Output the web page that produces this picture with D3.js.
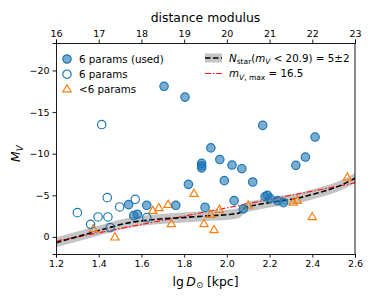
<!DOCTYPE html>
<html>
<head>
<meta charset="utf-8">
<script src="https://cdn.jsdelivr.net/npm/d3@7"></script>
<style>
  body { margin: 0; background: #fff; }
  text { font-family: "DejaVu Sans", sans-serif; fill: #000; }
</style>
</head>
<body>
<div id="chart"></div>
<script>
// data
const usedLgD = [1.706, 1.804, 2.168, 2.413, 2.368, 2.323, 1.925, 1.967, 1.882, 1.882, 1.882, 2.024, 2.07, 1.988, 2.121, 2.034, 1.898, 2.077, 2.179, 2.19, 2.202, 2.237, 2.265, 1.82, 1.540, 1.625, 1.761, 1.564, 1.581]
const usedMv = [-18.1, -16.8, -13.4, -12.0, -9.6, -8.6, -10.7, -9.3, -8.85, -8.55, -8.3, -8.64, -8.2, -6.76, -6.6, -4.36, -3.55, -3.36, -4.84, -5.0, -4.64, -4.36, -4.12, -6.32, -3.88, -3.8, -3.8, -2.56, -2.72]

const openLgD = [1.414, 1.30, 1.362, 1.397, 1.44, 1.443, 1.454, 1.498, 1.571, 1.625]
const openMv = [-13.5, -2.92, -1.52, -2.4, -4.72, -2.4, -1.12, -3.6, -4.52, -2.32]

const fewLgD = [1.375, 1.476, 1.653, 1.682, 1.725, 1.74, 1.846, 1.893, 1.94, 1.924, 1.965, 2.10, 2.311, 2.33, 2.40, 2.564]
const fewMv = [-0.92, 0.08, -3.12, -3.44, -3.84, -1.52, -5.16, -1.52, -0.8, -2.64, -3.24, -3.76, -4.12, -4.32, -2.36, -7.12]

// N_star curve and its band
const nstarLgD = [1.2, 1.33, 1.44, 1.53, 1.66, 1.78, 1.92, 2.02, 2.06, 2.085, 2.14, 2.23, 2.33, 2.42, 2.52, 2.6]
const nstarMv = [0.7, -0.25, -1.05, -1.65, -2.1, -2.3, -2.55, -2.72, -2.9, -3.5, -3.85, -4.25, -4.65, -5.25, -6.05, -7.05]
const bandHi = [0.05, -0.85, -1.65, -2.25, -2.7, -2.9, -3.15, -3.3, -3.5, -4.1, -4.45, -4.85, -5.25, -5.85, -6.65, -7.65]
const bandLo = [1.25, 0.35, -0.45, -1.05, -1.5, -1.7, -1.95, -2.1, -2.3, -2.9, -3.25, -3.65, -4.05, -4.65, -5.45, -6.45]

// m_V,max = 16.5 line
const limLgD = [1.2, 2.6]
const limMv = [0.5, -6.5]

const xTicks = [1.2, 1.4, 1.6, 1.8, 2.0, 2.2, 2.4, 2.6]
const topTicks = [16, 17, 18, 19, 20, 21, 22, 23]
const yTicks = [-20, -15, -10, -5, 0]

const dimensions = {
  width: 374,
  height: 299,
  margins: { top: 43, right: 19, bottom: 45, left: 56 },
}
const ctrW = dimensions.width - dimensions.margins.left - dimensions.margins.right
const ctrH = dimensions.height - dimensions.margins.top - dimensions.margins.bottom

const blue = '#1f77b4'
const orange = '#ff7f0e'
const red = '#ff1a1a'

const xScale = d3.scaleLinear().domain([1.2, 2.6]).range([0, ctrW])
const topScale = d3.scaleLinear().domain([16, 23]).range([0, ctrW])
const yScale = d3.scaleLinear().domain([2.05, -23.3]).range([ctrH, 0])

const svg = d3.select('#chart').append('svg')
  .attr('width', dimensions.width)
  .attr('height', dimensions.height)

const ctr = svg.append('g')
  .attr('transform', `translate(${dimensions.margins.left}, ${dimensions.margins.top})`)

const clip = ctr.append('clipPath').attr('id', 'clip')
clip.append('rect').attr('width', ctrW).attr('height', ctrH)
const plot = ctr.append('g').attr('clip-path', 'url(#clip)')

// band
const bandData = nstarLgD.map((d, i) => ({ x: d, lo: bandLo[i], hi: bandHi[i] }))
plot.append('path')
  .datum(bandData)
  .attr('d', d3.area().x(d => xScale(d.x)).y0(d => yScale(d.lo)).y1(d => yScale(d.hi)).curve(d3.curveMonotoneX))
  .attr('fill', '#c4c4c4')

// limit line
const lim = limLgD.map((d, i) => ({ x: d, y: limMv[i] }))
plot.append('path')
  .datum(lim)
  .attr('d', d3.line().x(d => xScale(d.x)).y(d => yScale(d.y)))
  .attr('fill', 'none')
  .attr('stroke', red)
  .attr('stroke-width', 1.2)
  .attr('stroke-dasharray', '6,1.8,1.5,1.8')

// N_star line
const ns = nstarLgD.map((d, i) => ({ x: d, y: nstarMv[i] }))
plot.append('path')
  .datum(ns)
  .attr('d', d3.line().x(d => xScale(d.x)).y(d => yScale(d.y)).curve(d3.curveMonotoneX))
  .attr('fill', 'none')
  .attr('stroke', '#000')
  .attr('stroke-width', 1.6)
  .attr('stroke-dasharray', '5.5,2.5')

// triangles
const tri = d3.symbol().type(d3.symbolTriangle).size(30)
plot.selectAll('.few')
  .data(fewLgD.map((d, i) => ({ x: d, y: fewMv[i] })))
  .join('path')
  .attr('class', 'few')
  .attr('d', tri)
  .attr('transform', d => `translate(${xScale(d.x)}, ${yScale(d.y)})`)
  .attr('fill', 'none')
  .attr('stroke', orange)
  .attr('stroke-width', 1.2)

// open circles
plot.selectAll('.open')
  .data(openLgD.map((d, i) => ({ x: d, y: openMv[i] })))
  .join('circle')
  .attr('class', 'open')
  .attr('r', 4.2)
  .attr('cx', d => xScale(d.x))
  .attr('cy', d => yScale(d.y))
  .attr('fill', 'none')
  .attr('stroke', blue)
  .attr('stroke-width', 1.2)

// used circles
plot.selectAll('.used')
  .data(usedLgD.map((d, i) => ({ x: d, y: usedMv[i] })))
  .join('circle')
  .attr('class', 'used')
  .attr('r', 4.2)
  .attr('cx', d => xScale(d.x))
  .attr('cy', d => yScale(d.y))
  .attr('fill', blue)
  .attr('fill-opacity', 0.6)
  .attr('stroke', blue)
  .attr('stroke-width', 1.2)

// axes
const xAxis = d3.axisBottom(xScale).tickValues(xTicks).tickFormat(d3.format('.1f')).tickSizeOuter(0).tickSize(3.5).tickPadding(3)
const topAxis = d3.axisTop(topScale).tickValues(topTicks).tickFormat(d3.format('d')).tickSizeOuter(0).tickSize(3.5).tickPadding(3)
const yAxis = d3.axisLeft(yScale).tickValues(yTicks).tickFormat(d => d3.format('d')(d).replace('-', '\u2212')).tickSizeOuter(0).tickSize(3.5).tickPadding(3)

const xAxisGroup = ctr.append('g').call(xAxis).attr('transform', `translate(0, ${ctrH})`)
const topAxisGroup = ctr.append('g').call(topAxis)
const yAxisGroup = ctr.append('g').call(yAxis)
;[xAxisGroup, topAxisGroup, yAxisGroup].forEach(g => {
  g.selectAll('text').style('font-size', '9.5px').style('font-family', '"DejaVu Sans", sans-serif')
  g.selectAll('line').attr('stroke', '#000').attr('stroke-width', 0.9)
  g.select('.domain').attr('stroke', '#000').attr('stroke-width', 0.9)
})

// right spine
ctr.append('line')
  .attr('x1', ctrW).attr('x2', ctrW).attr('y1', 0).attr('y2', ctrH)
  .attr('stroke', '#000').attr('stroke-width', 0.9)

// axis labels
const xl = svg.append('text')
  .attr('x', dimensions.margins.left + ctrW / 2)
  .attr('y', 286)
  .attr('text-anchor', 'middle')
  .style('font-size', '12.4px')
xl.append('tspan').text('lg\u2009')
xl.append('tspan').style('font-style', 'italic').text('D')
xl.append('tspan').style('font-size', '8.5px').attr('dy', 2).text('\u2299')
xl.append('tspan').attr('dy', -2).text(' [kpc]')

svg.append('text')
  .attr('x', dimensions.margins.left + ctrW / 2)
  .attr('y', 22)
  .attr('text-anchor', 'middle')
  .style('font-size', '12.4px')
  .text('distance modulus')

const yl = svg.append('text')
  .attr('transform', `translate(20, ${dimensions.margins.top + yScale(-10)}) rotate(-90)`)
  .attr('text-anchor', 'middle')
  .style('font-size', '12.4px')
yl.append('tspan').style('font-style', 'italic').text('M')
yl.append('tspan').style('font-style', 'italic').style('font-size', '8.7px').attr('dy', 2.5).text('V')

// legend left
const legL = ctr.append('g').attr('transform', 'translate(11, 16)')
const legItems = [
  { label: '6 params (used)', kind: 'used' },
  { label: '6 params', kind: 'open' },
  { label: '<6 params', kind: 'few' },
]
legItems.forEach((d, i) => {
  const g = legL.append('g').attr('transform', `translate(0, ${i * 15.2})`)
  if (d.kind === 'few') {
    g.append('path').attr('d', tri).attr('fill', 'none').attr('stroke', orange).attr('stroke-width', 1.2)
  } else {
    g.append('circle').attr('r', 4.2)
      .attr('fill', d.kind === 'used' ? blue : 'none')
      .attr('fill-opacity', 0.6)
      .attr('stroke', blue).attr('stroke-width', 1.2)
  }
  g.append('text').attr('x', 12).attr('y', 3.7).style('font-size', '10.3px').text(d.label)
})

// legend right
const legR = ctr.append('g').attr('transform', 'translate(149, 15)')
const r1 = legR.append('g')
r1.append('rect').attr('x', 0).attr('y', -4.5).attr('width', 17).attr('height', 9).attr('fill', '#c4c4c4')
r1.append('line').attr('x1', 0).attr('x2', 17).attr('stroke', '#000').attr('stroke-width', 1.6).attr('stroke-dasharray', '5.5,2.5')
const t1 = r1.append('text').attr('x', 24).attr('y', 3.7).style('font-size', '10.3px')
t1.append('tspan').style('font-style', 'italic').text('N')
t1.append('tspan').style('font-size', '7.5px').attr('dy', 2.5).text('star')
t1.append('tspan').attr('dy', -2.5).text('(')
t1.append('tspan').style('font-style', 'italic').text('m')
t1.append('tspan').style('font-style', 'italic').style('font-size', '7.5px').attr('dy', 2.5).text('V')
t1.append('tspan').attr('dy', -2.5).text(' < 20.9) = 5\u00b12')

const r2 = legR.append('g').attr('transform', 'translate(0, 15.5)')
r2.append('line').attr('x1', 0).attr('x2', 17).attr('stroke', red).attr('stroke-width', 1.2).attr('stroke-dasharray', '6,1.8,1.5,1.8')
const t2 = r2.append('text').attr('x', 24).attr('y', 3.7).style('font-size', '10.3px')
t2.append('tspan').style('font-style', 'italic').text('m')
t2.append('tspan').style('font-size', '7.5px').attr('dy', 2.5).style('font-style', 'italic').text('V')
t2.append('tspan').style('font-size', '7.5px').text(', max')
t2.append('tspan').attr('dy', -2.5).text(' = 16.5')
</script>
</body>
</html>
